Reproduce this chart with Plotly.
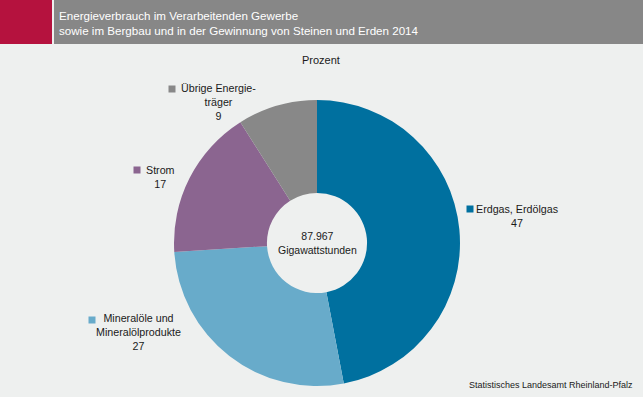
import plotly.graph_objects as go

W, H = 643, 397

categories = ["Erdgas, Erdölgas", "Mineralöle und Mineralölprodukte", "Strom", "Übrige Energieträger"]
values = [47, 27, 17, 9]
colors = ["#00709f", "#68abca", "#8b6590", "#888888"]

# label lines per category (as shown in chart)
label_lines = [
    ["Erdgas, Erdölgas", "47"],
    ["Mineralöle und", "Mineralölprodukte", "27"],
    ["Strom", "17"],
    ["Übrige Energie-", "träger", "9"],
]
center_text = ["87.967", "Gigawattstunden"]
title_lines = ["Energieverbrauch im Verarbeitenden Gewerbe",
               "sowie im Bergbau und in der Gewinnung von Steinen und Erden 2014"]
subtitle = "Prozent"
source = "Statistisches Landesamt Rheinland-Pfalz"

FONT = "Liberation Sans, Arial, sans-serif"

def px(x):
    return x / W

def py(y):
    return 1 - y / H

cx, cy, r = 317, 243, 143

fig = go.Figure(go.Pie(
    labels=categories, values=values, sort=False, direction="clockwise",
    rotation=0, hole=0.35, marker=dict(colors=colors, line=dict(width=0)),
    textinfo="none", showlegend=False,
    domain=dict(x=[px(cx - r), px(cx + r)], y=[py(cy + r), py(cy - r)]),
))

shapes = [
    dict(type="rect", xref="paper", yref="paper", x0=0, x1=px(52), y0=py(44), y1=1,
         fillcolor="#b5123e", line=dict(width=0), layer="below"),
    dict(type="rect", xref="paper", yref="paper", x0=px(54), x1=1, y0=py(44), y1=1,
         fillcolor="#878787", line=dict(width=0), layer="below"),
]
ann = []
ann.append(dict(x=px(57), y=py(23), text="<br>".join(title_lines), xanchor="left", yanchor="middle",
                align="left", font=dict(color="white", size=11.6, family=FONT)))
ann.append(dict(x=px(321), y=py(60), text=subtitle, xanchor="center", yanchor="middle",
                font=dict(color="#1a1a1a", size=11, family=FONT)))
ann.append(dict(x=px(635), y=py(385), text=source, xanchor="right", yanchor="middle",
                font=dict(color="#1a1a1a", size=9, family=FONT)))
ann.append(dict(x=px(cx), y=py(242.5), text="<br>".join(center_text), xanchor="center", yanchor="middle",
                font=dict(color="#1a1a1a", size=10.5, family=FONT)))

# label layout: square position, block center (x, y)
layouts = [
    dict(sq=(470, 209), c=(517, 215.5)),
    dict(sq=(92, 320), c=(138, 332)),
    dict(sq=(137, 170), c=(160, 176.5)),
    dict(sq=(172, 89), c=(218, 102)),
]
for i, lay in enumerate(layouts):
    sx, sy = lay["sq"]
    shapes.append(dict(type="rect", xref="paper", yref="paper",
                       x0=px(sx - 3.5), x1=px(sx + 3.5), y0=py(sy + 3.5), y1=py(sy - 3.5),
                       fillcolor=colors[i], line=dict(width=0)))
    lx, ly = lay["c"]
    ann.append(dict(x=px(lx), y=py(ly), text="<br>".join(label_lines[i]), xanchor="center",
                    yanchor="middle", align="center",
                    font=dict(color="#1a1a1a", size=10.7, family=FONT)))

for a in ann:
    a.update(xref="paper", yref="paper", showarrow=False)

fig.update_layout(
    width=W, height=H, margin=dict(l=0, r=0, t=0, b=0),
    paper_bgcolor="#eef0ef", plot_bgcolor="#eef0ef",
    shapes=shapes, annotations=ann,
)
fig.write_html("out.html", config={"displayModeBar": False},
               post_script="document.body.style.margin='0';")
